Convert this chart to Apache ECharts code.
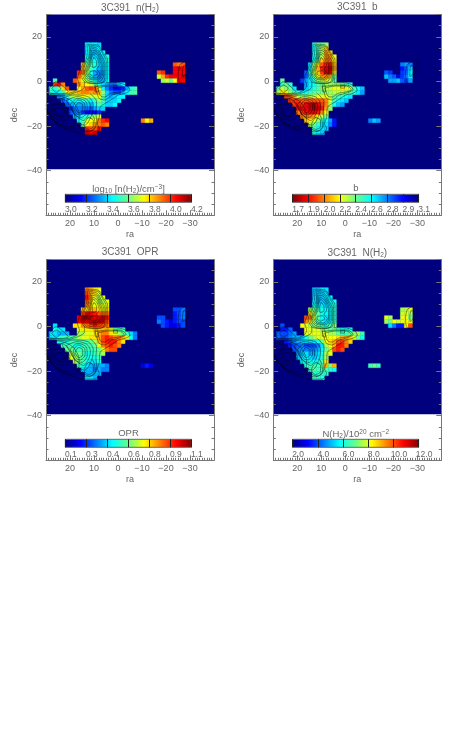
<!DOCTYPE html>
<html>
<head>
<meta charset="UTF-8">
<title>3C391</title>
<script src="https://cdn.jsdelivr.net/npm/echarts@6/dist/echarts.min.js"></script>
<style>
html,body{margin:0;padding:0;background:#fff}
#main{width:455px;height:735px;filter:blur(0.35px)}
</style>
</head>
<body>
<div id="main"></div>
<script>
var _ = null;

// map cells, row 0 is the top of the emission, column 0 is the left edge
var nH2Rows = [
[_,_,_,_,_,_,_,_,_,_,3.45,3.45,3.45,3.4],
[_,_,_,_,_,_,_,_,_,_,3.45,3.4,3.4,3.45],
[_,_,_,_,_,_,_,_,_,_,3.45,3.4,3.35,3.4,3.45],
[_,_,_,_,_,_,_,_,_,_,3.45,3.4,3.4,3.4,3.4,3.5],
[_,_,_,_,_,_,_,_,_,_,3.5,3.5,3.45,3.4,3.4,3.5],
[_,_,_,_,_,_,_,_,_,3.85,3.6,3.55,3.5,3.4,3.4,3.45,_,_,_,_,_,_,_,_,_,_,_,_,_,_,_,_,3.95,3.9,3.95],
[_,_,_,_,_,_,_,_,_,3.85,3.65,3.55,3.45,3.35,3.4,3.45,_,_,_,_,_,_,_,_,_,_,_,_,_,_,_,_,4.05,4.1,4.05],
[_,_,_,_,_,_,_,_,4.0,3.9,3.65,3.5,3.35,3.3,3.35,3.45,_,_,_,_,_,_,_,_,_,_,_,_,3.95,4.0,_,_,4.05,4.05,4.05],
[_,_,_,_,_,_,_,_,3.95,3.75,3.6,3.45,3.35,3.3,3.35,3.45,_,_,_,_,_,_,_,_,_,_,_,_,3.7,3.85,4.0,4.05,4.05,4.05,4.1],
[_,_,3.55,_,_,_,_,3.95,3.85,3.7,3.65,3.55,3.45,3.35,3.35,3.45,_,_,_,_,_,_,_,_,_,_,_,_,_,3.65,3.7,3.6,3.75,4.05,4.05],
[_,_,4.0,4.05,3.9,_,_,_,3.9,3.8,3.75,3.7,3.6,3.5,3.4,3.35,3.3,3.3,3.4,3.45],
[_,3.55,3.5,3.6,3.8,3.95,_,_,3.75,3.85,3.95,4.0,3.95,3.7,3.45,3.3,3.2,3.15,3.15,3.2,3.35,3.5,3.55],
[_,3.5,3.45,3.45,3.55,3.75,3.8,3.8,3.85,3.9,3.9,3.85,3.9,3.85,3.65,3.4,3.3,3.25,3.25,3.35,3.45,3.55,3.55],
[_,_,_,3.3,3.35,3.5,3.65,3.7,3.7,3.75,3.75,3.7,3.7,3.75,3.6,3.4,3.35,3.4,3.45,3.45],
[_,_,_,_,3.25,3.35,3.45,3.5,3.45,3.5,3.5,3.45,3.55,3.65,3.55,3.4,3.4,3.4,3.45],
[_,_,_,_,_,3.25,3.35,3.4,3.35,3.35,3.4,3.35,3.45,3.55,3.5,3.4,3.4,3.45],
[_,_,_,_,_,_,3.2,3.3,3.3,3.3,3.3,3.25,3.35,3.4,3.4],
[_,_,_,_,_,_,3.25,3.3,3.3,3.2,3.15,3.15,3.15,3.2],
[_,_,_,_,_,_,_,3.35,3.4,3.5,3.5,3.6,3.65,3.7],
[_,_,_,_,_,_,_,_,3.45,3.55,3.7,3.75,3.75,3.9,4.0,4.05,_,_,_,_,_,_,_,_,3.9,3.75,3.85],
[_,_,_,_,_,_,_,_,_,3.6,3.75,3.8,3.85,3.9,3.95,3.9],
[_,_,_,_,_,_,_,_,_,_,4.0,3.95,3.95,4.05],
[_,_,_,_,_,_,_,_,_,_,4.1,4.05,4.1]
];
var bRows = [
[_,_,_,_,_,_,_,_,_,_,2.5,2.4,2.4,2.35],
[_,_,_,_,_,_,_,_,_,_,2.55,2.45,2.3,2.15],
[_,_,_,_,_,_,_,_,_,_,2.55,2.45,2.35,2.1,2.15],
[_,_,_,_,_,_,_,_,_,_,2.55,2.45,2.3,2.1,2.05,2.25],
[_,_,_,_,_,_,_,_,_,_,2.55,2.4,2.15,2.05,2.05,2.2],
[_,_,_,_,_,_,_,_,_,2.6,2.35,2.2,2.0,1.9,1.9,2.15,_,_,_,_,_,_,_,_,_,_,_,_,_,_,_,_,2.75,2.7,2.75],
[_,_,_,_,_,_,_,_,_,2.6,2.35,2.1,1.9,1.8,1.8,2.1,_,_,_,_,_,_,_,_,_,_,_,_,_,_,_,_,2.9,2.8,2.65],
[_,_,_,_,_,_,_,_,2.8,2.5,2.3,2.15,1.95,1.8,1.85,2.2,_,_,_,_,_,_,_,_,_,_,_,_,2.8,2.85,_,_,2.85,2.8,2.6],
[_,_,_,_,_,_,_,_,2.8,2.6,2.4,2.25,2.1,2.05,2.15,2.4,_,_,_,_,_,_,_,_,_,_,_,_,2.65,2.75,2.8,2.95,2.85,2.75,2.6],
[_,_,2.4,_,_,_,_,2.85,2.7,2.6,2.5,2.35,2.3,2.25,2.3,2.45,_,_,_,_,_,_,_,_,_,_,_,_,_,2.7,2.7,2.65,2.8,2.85,2.7],
[_,_,2.5,2.4,2.5,_,_,_,2.7,2.6,2.55,2.45,2.4,2.35,2.35,2.35,2.35,2.4,2.45,2.5],
[_,2.45,2.3,2.35,2.4,2.6,_,_,2.65,2.6,2.5,2.45,2.35,2.3,2.3,2.25,2.25,2.2,2.2,2.3,2.45,2.55,2.65],
[_,2.3,2.2,2.2,2.35,2.45,2.5,2.55,2.55,2.5,2.45,2.4,2.4,2.35,2.35,2.3,2.3,2.3,2.35,2.4,2.5,2.6,2.7],
[_,_,_,1.95,2.0,2.1,2.3,2.35,2.35,2.3,2.3,2.25,2.25,2.25,2.3,2.4,2.45,2.5,2.55,2.6],
[_,_,_,_,1.95,1.95,1.95,2.0,2.0,2.0,2.0,2.0,2.0,2.05,2.25,2.45,2.55,2.6,2.65],
[_,_,_,_,_,1.95,1.9,1.95,1.85,1.8,1.75,1.85,1.95,2.05,2.3,2.55,2.65,2.7],
[_,_,_,_,_,_,1.9,1.9,1.85,1.8,1.75,1.8,1.9,2.1,2.35],
[_,_,_,_,_,_,2.05,1.95,1.9,1.85,1.85,1.9,2.05,2.25],
[_,_,_,_,_,_,_,2.05,2.05,2.05,2.1,2.2,2.3,2.4],
[_,_,_,_,_,_,_,_,2.15,2.2,2.25,2.35,2.5,2.55,2.7,2.9,_,_,_,_,_,_,_,_,2.75,2.65,2.7],
[_,_,_,_,_,_,_,_,_,2.3,2.4,2.5,2.6,2.6,2.75,2.9],
[_,_,_,_,_,_,_,_,_,_,2.45,2.55,2.6,2.65],
[_,_,_,_,_,_,_,_,_,_,2.5,2.6,2.65]
];
var oprRows = [
[_,_,_,_,_,_,_,_,_,_,.85,.8,.75,.7],
[_,_,_,_,_,_,_,_,_,_,.9,.8,.75,.7],
[_,_,_,_,_,_,_,_,_,_,.95,.8,.7,.65,.7],
[_,_,_,_,_,_,_,_,_,_,.9,.75,.7,.65,.65,.7],
[_,_,_,_,_,_,_,_,_,_,.85,.75,.7,.7,.7,.7],
[_,_,_,_,_,_,_,_,_,.8,.75,.8,.8,.75,.7,.75,_,_,_,_,_,_,_,_,_,_,_,_,_,_,_,_,.3,.3,.35],
[_,_,_,_,_,_,_,_,_,.9,.95,1.0,.95,.9,.85,.85,_,_,_,_,_,_,_,_,_,_,_,_,_,_,_,_,.25,.3,.35],
[_,_,_,_,_,_,_,_,1.0,1.05,1.05,1.05,1.0,1.0,1.0,.95,_,_,_,_,_,_,_,_,_,_,_,_,.3,.3,_,_,.25,.3,.35],
[_,_,_,_,_,_,_,_,1.0,1.0,1.0,1.0,1.05,1.05,1.0,.9,_,_,_,_,_,_,_,_,_,_,_,_,.35,.3,.25,.2,.25,.3,.3],
[_,_,.45,_,_,_,_,.75,.75,.85,.85,.9,.95,.9,.9,.85,_,_,_,_,_,_,_,_,_,_,_,_,_,.3,.25,.2,.2,.25,.3],
[_,_,.5,.45,.45,_,_,_,.7,.75,.75,.75,.8,.8,.8,.8,.7,.6,.55,.55],
[_,.45,.45,.4,.4,.4,_,_,.65,.65,.7,.7,.75,.8,.85,.85,.75,.7,.65,.6,.55,.45,.35],
[_,.45,.45,.5,.55,.55,.55,.6,.65,.7,.7,.75,.75,.8,.9,.95,.9,.85,.85,.8,.7,.5,.35],
[_,_,_,.5,.5,.5,.55,.55,.55,.55,.55,.6,.65,.8,.9,.95,.95,.95,.85,.75],
[_,_,_,_,.55,.55,.55,.5,.5,.55,.55,.55,.6,.7,.85,.9,.95,.9,.85],
[_,_,_,_,_,.6,.6,.55,.55,.55,.55,.55,.55,.6,.7,.85,.9,.9],
[_,_,_,_,_,_,.65,.6,.6,.55,.5,.5,.55,.6,.65],
[_,_,_,_,_,_,.7,.65,.6,.55,.5,.5,.5,.55],
[_,_,_,_,_,_,_,.65,.6,.55,.5,.45,.45,.5],
[_,_,_,_,_,_,_,_,.55,.5,.45,.4,.4,.4,.4,.35,_,_,_,_,_,_,_,_,.2,.25,.2],
[_,_,_,_,_,_,_,_,_,.45,.4,.4,.35,.4,.35,.35],
[_,_,_,_,_,_,_,_,_,_,.4,.4,.4,.4],
[_,_,_,_,_,_,_,_,_,_,.45,.45,.4]
];
var colRows = [
[_,_,_,_,_,_,_,_,_,_,5.2,5.2,5.5,5.5],
[_,_,_,_,_,_,_,_,_,_,5.2,5.2,5.3,5.5],
[_,_,_,_,_,_,_,_,_,_,5.3,5.2,5.2,5.5,5.7],
[_,_,_,_,_,_,_,_,_,_,5.5,5.3,5.2,5.3,5.5,6],
[_,_,_,_,_,_,_,_,_,_,6,5.7,5.5,5.5,5.5,6.2],
[_,_,_,_,_,_,_,_,_,7.5,7,6.5,6,5.7,5.7,6.3,_,_,_,_,_,_,_,_,_,_,_,_,_,_,_,_,7.5,7.7,8],
[_,_,_,_,_,_,_,_,_,8.5,7.5,6.8,6,5.7,5.7,6.2,_,_,_,_,_,_,_,_,_,_,_,_,_,_,_,_,7.8,8,7.5],
[_,_,_,_,_,_,_,_,10,9.5,7.8,6.8,5.8,5.5,5.6,6.3,_,_,_,_,_,_,_,_,_,_,_,_,8,7.5,_,_,8,8.2,7.2],
[_,_,_,_,_,_,_,_,9.5,8.5,7.5,6.5,5.8,5.5,5.7,6.5,_,_,_,_,_,_,_,_,_,_,_,_,7.5,7,8.2,7.8,8,8.3,8],
[_,_,4,_,_,_,_,8.2,8,7.5,7.2,7,6.5,6.2,6.5,7.2,_,_,_,_,_,_,_,_,_,_,_,_,_,5.5,4.5,3.5,3.5,8.2,10],
[_,_,3.5,3.5,4.2,_,_,_,8.2,8,8,8,7.5,7,7,7,6.5,6,6,6],
[_,4.3,4,4,4.3,4.8,_,_,8,8,8,8,8,8,7.5,7.5,7,6.5,6.5,7,7.3,7.5,6.5],
[_,4.3,4,4,4.5,5,5,5.2,6,7,7.5,8,8,8.2,8.2,8.2,8.5,9,9,8.7,8,7,6],
[_,_,_,3.5,4,4.5,5,5.2,5.5,5.5,5.5,6,7,8.2,8.5,9,10,10.2,9.5,8.7],
[_,_,_,_,3.5,4,4.2,4.5,4,4,4,4.5,5.5,7.5,8.2,9,10.5,10.5,9.5],
[_,_,_,_,_,4,4.5,4.8,4.5,4.5,4.5,5,5.7,7,7.8,10,10.5,10],
[_,_,_,_,_,_,4.8,5.2,5.5,5,4.8,5.5,6,7.5,8],
[_,_,_,_,_,_,5,5.5,5.7,5.5,5.2,5.5,6.2,7.5],
[_,_,_,_,_,_,_,5.7,6,6,5.8,6,6.5,8.5],
[_,_,_,_,_,_,_,_,6.2,6.5,6.5,6.5,6.8,9,7.2,9,_,_,_,_,_,_,_,_,6.5,7,6.5],
[_,_,_,_,_,_,_,_,_,6.5,6.7,6.5,6.5,6.8,6.2,6],
[_,_,_,_,_,_,_,_,_,_,6.3,6.3,6.3,6.2],
[_,_,_,_,_,_,_,_,_,_,6.5,6.3,6.2]
];

// contour lines, [ra, dec], the same in all four maps
var contours = [
[[30,-10.5],[28.3,-15.8],[24.2,-20.2],[18.6,-22.5],[13.8,-23.6],[9.6,-23.6],[7.8,-21.1],[8.6,-18.9],[7.8,-16.1],[7.5,-11.7],[5.4,-9.9],[1.9,-7.6],[-0.1,-6.1],[-2.9,-5.4],[-5,-3.9],[-3.9,-2],[0.6,-0.6],[4.7,-0.6],[4.3,2.9],[4.3,9.6],[6.1,12.8],[8.6,16.4],[13.3,16.7],[13.5,13.3],[14.4,8.8],[15.6,5.4],[16.9,1.4],[16.1,-1.6],[17.2,-3.9],[20.7,-5.4],[23.9,-5.7],[27.6,-5.4],[30,-6]],
[[12.6,16.2],[8.5,15.7],[6.4,12.4],[4.9,9],[4.9,3],[5.4,0],[9,-1],[13.5,-0.5],[15.4,3],[14.2,7.5],[13,11],[12.6,16.2]],
[[11.9,15.6],[8.6,14.8],[6.8,11.4],[5.4,8.1],[5.4,2.9],[6.1,-0.1],[8.9,-0.9],[13,-0.1],[14.7,2.9],[13.8,7.4],[12.2,11.1],[11.9,15.6]],
[[11.4,15],[8.7,14],[7.2,11],[5.9,7.7],[5.9,3],[7.2,0.2],[9,-0.3],[12.4,0.4],[14.2,3.2],[13,7.4],[11.8,11],[11.4,15]],
[[11,14.1],[8.9,13.3],[7.5,10.4],[6.5,7.3],[6.5,2.9],[8.2,0.6],[11.7,0.9],[13.8,3.6],[12.4,7.3],[11.4,11.1],[11,14.1]],
[[10.6,13.2],[8.7,12],[7.6,9.3],[7,7.3],[7,3.2],[8.6,1],[11.7,1.5],[13.2,4],[11.9,7.4],[11.2,10.7],[10.6,13.2]],
[[10.3,12.3],[8.6,10.4],[7.8,7.3],[8.9,5.4],[7.5,3.6],[8.9,1.6],[11.7,2.1],[12.6,4.4],[11.4,7.3],[11,10.4],[10.3,12.3]],
[[10,10.8],[8.9,8.9],[9.2,6.6],[10.6,6.3],[10.7,8.9],[10,10.8]],
[[11.7,4.4],[9.6,4.8],[8.6,3.4],[10.3,2.4],[11.7,3.2],[11.7,4.4]],
[[9.6,-2.4],[4,-1.6],[-0.8,-1.6],[-3.3,-3.6],[-0.8,-5.1],[2.6,-6.1],[5.4,-8.3],[7.8,-7.6],[8.9,-4.7],[9.6,-2.4]],
[[8.5,-3],[4,-2],[-0.5,-2],[-2.5,-3.7],[-0.5,-4.7],[3,-5.3],[5.5,-7],[7.3,-6.5],[8,-4.5],[8.5,-3]],
[[1.9,-1.7],[0.3,-1.7],[0.3,-3],[1.9,-3],[1.9,-1.7]],
[[9.6,-1.6],[8.6,-1.6],[8.2,-4.7],[9.3,-4.7],[9.6,-1.6]],
[[29,-5.7],[23,-6.3],[17,-4.7],[14,-2.5],[14,0]],
[[17.9,-11.7],[16.5,-9.5],[14.7,-10.5],[14.7,-12.9],[16.5,-14],[17.9,-11.7]],
[[18.7,-11],[16.7,-8.3],[14,-9.8],[13.7,-12.5],[15.6,-15],[17.3,-14.5],[18.7,-11]],
[[20,-10.5],[16.9,-7.6],[13.3,-9.1],[12.8,-12.9],[15.1,-16.1],[17.9,-15.1],[20,-10.5]],
[[21.5,-8.5],[17,-6.8],[13,-8],[11.5,-11],[12,-14],[14.4,-17.5],[16.8,-16],[19.5,-12.5],[21.5,-8.5]],
[[23.5,-7.6],[18.6,-6.1],[12.4,-6.9],[10.3,-10.5],[11,-15.1],[13.8,-19.6],[15.8,-18.9],[17.9,-17.4],[20.7,-13.6],[23.5,-7.6]],
[[11.7,-5.4],[8.9,-9.1],[9.2,-14.3],[8.9,-17.4],[9.6,-21.1],[13,-22.6],[15.8,-21.1],[17.2,-18.9]],
[[11,-14.5],[9.9,-16.5],[9.5,-20],[11.5,-22.3],[14.5,-21],[15.5,-18.5]],
[[12.4,-16.1],[10.3,-17.4],[10.3,-20.3],[12.4,-21.5],[14.2,-19.6],[12.4,-16.1]],
[[27.6,-3.1],[25.8,-1.6],[23.9,-3.1],[25.8,-4.9],[27.6,-3.1]],
[[28.6,-3.1],[25.8,-0.1],[22.8,-2.3],[20.7,-4.7],[23.9,-5.4],[28.6,-5],[28.6,-3.1]],
[[26.3,-12.1],[23.9,-11.7],[22.1,-13.6],[23.9,-15.5],[26,-14.3],[26.3,-12.1]],
[[27,-10.5],[24,-10.3],[21,-13.5],[23,-16],[26,-15.3],[27.3,-13],[27,-10.5]],
[[28.3,-10.5],[23.9,-9.5],[20,-13.6],[22.1,-17.4],[26.3,-16.5],[28.3,-13.6],[28.3,-10.5]],
[[30,-9.1],[23.9,-7.6],[19.3,-11.4],[17.9,-17.4],[19.3,-20.3],[24.9,-18.9],[28.3,-15.1],[30,-12.1]],
[[30,-8],[25,-6.5],[19,-9],[16.2,-15],[16.5,-20],[19,-21.5],[24,-19.7],[28,-16],[30,-12.5]],
[[-27.2,8.5],[-29.7,9.7],[-30,5.9],[-28.6,2.9],[-28.3,-0.9],[-25.8,-0.6],[-25.1,3.7],[-25.8,7.5],[-27.2,8.5]],
[[-27.5,7.3],[-28.9,5.9],[-28,2.9],[-26.9,2.2],[-26.9,5.1],[-27.5,7.3]]
];

// colour bar tick labels
var nH2Ticks = ['3.0','3.2','3.4','3.6','3.8','4.0','4.2'];
var bTicks = ['1.7','1.9','2.0','2.2','2.4','2.6','2.8','2.9','3.1'];
var oprTicks = ['0.1','0.3','0.4','0.6','0.8','0.9','1.1'];
var colTicks = ['2.0','4.0','6.0','8.0','10.0','12.0'];

var jet = ['#00007f','#0000ff','#007fff','#00ffff','#66ff88','#ffff00','#ff7f00','#ff0000','#7f0000'];
var navy = '#00007f';
var textColor = '#666';
var lineColor = '#777';
var fontName = 'Liberation Sans';

// cell grid, in axis units
var raStart = 30.4, decStart = 17.37, cellW = 1.667, cellH = 1.793;

var rich = {
    s: {fontSize: 6.5, padding: [4, 0, 0, 0], color: textColor, fontFamily: fontName},
    u: {fontSize: 6.5, padding: [0, 0, 5, 0], color: textColor, fontFamily: fontName}
};

var panels = [
    {title: '3C391  n(H{s|2})', barTitle: 'log{s|10} [n(H{s|2})/cm{u|−3}]', rows: nH2Rows, ticks: nH2Ticks, min: 3.0, max: 4.2, flip: false, left: 46, top: 14.5},
    {title: '3C391  b', barTitle: 'b', rows: bRows, ticks: bTicks, min: 1.7, max: 3.1, flip: true, left: 273.3, top: 14.5},
    {title: '3C391  OPR', barTitle: 'OPR', rows: oprRows, ticks: oprTicks, min: 0.1, max: 1.1, flip: false, left: 46, top: 259.5},
    {title: '3C391  N(H{s|2})', barTitle: 'N(H{s|2})/10{u|20} cm{u|−2}', rows: colRows, ticks: colTicks, min: 2, max: 12, flip: false, left: 273.3, top: 259.5}
];

function colourOf(p, v) {
    var f = (v - p.min) / (p.max - p.min);
    if (p.flip) f = 1 - f;
    return echarts.color.lerp(Math.max(0, Math.min(1, f)), jet);
}

function cellData(rows) {
    var out = [];
    rows.forEach(function (row, r) {
        row.forEach(function (v, c) {
            if (v !== null) out.push([raStart - cellW * (c + 0.5), decStart - cellH * (r + 0.5), v]);
        });
    });
    return out;
}

function minus(v) {
    return String(v).replace('-', '−');
}

var grid = [], xAxis = [], yAxis = [], series = [], title = [];

panels.forEach(function (p, i) {
    var xMain = i * 2, xBar = i * 2 + 1;
    var yMain = i * 3, yBar = i * 3 + 2;
    var gMain = i * 2, gBar = i * 2 + 1;
    var barLeft = p.left + 19.3;

    grid.push({left: p.left, top: p.top, width: 168, height: 200.8});
    grid.push({left: barLeft, top: p.top + 179.8, width: 126, height: 8});

    title.push({
        text: p.title, left: p.left + 79, top: p.top - 17, textAlign: 'center',
        textStyle: {fontSize: 10, fontWeight: 'normal', color: textColor, fontFamily: fontName, rich: rich}
    });
    title.push({
        text: p.barTitle, left: p.left + 77.5, top: p.top + 164, textAlign: 'center',
        textStyle: {fontSize: 9.5, fontWeight: 'normal', color: textColor, fontFamily: fontName, rich: rich}
    });

    xAxis.push({
        gridIndex: gMain, type: 'value', inverse: true, min: -40, max: 30, interval: 10, z: 5,
        name: 'ra', nameLocation: 'middle', nameGap: 15,
        nameTextStyle: {fontSize: 9, color: textColor, fontFamily: fontName},
        splitLine: {show: false},
        axisLine: {show: true, onZero: false, lineStyle: {color: lineColor}},
        axisTick: {show: true, inside: true, length: 5, lineStyle: {color: lineColor}},
        minorTick: {show: true, splitNumber: 10, length: 2.5, lineStyle: {color: lineColor}},
        axisLabel: {fontSize: 9, margin: 4, color: textColor, fontFamily: fontName, showMinLabel: false, showMaxLabel: false, formatter: minus}
    });
    xAxis.push({
        gridIndex: gBar, type: 'category', boundaryGap: false, data: p.ticks, position: 'bottom', z: 5,
        axisLine: {show: false},
        axisTick: {show: true, inside: true, length: 8, alignWithLabel: true, interval: 0, lineStyle: {color: '#222'}},
        axisLabel: {fontSize: 8.5, margin: 3, color: textColor, fontFamily: fontName, interval: 0, padding: [0, 0, 0, 11], showMinLabel: true, showMaxLabel: true},
        splitLine: {show: false}
    });

    var yCommon = {
        gridIndex: gMain, type: 'value', min: -60, max: 30, interval: 20, z: 5,
        splitLine: {show: false},
        axisLine: {show: true, onZero: false, lineStyle: {color: lineColor}},
        axisTick: {show: true, inside: true, length: 5, lineStyle: {color: lineColor}},
        minorTick: {show: true, splitNumber: 4, length: 2.5, lineStyle: {color: lineColor}}
    };
    yAxis.push(Object.assign({}, yCommon, {
        position: 'left', name: 'dec', nameLocation: 'middle', nameGap: 27, nameRotate: 90,
        nameTextStyle: {fontSize: 9, color: textColor, fontFamily: fontName},
        axisLabel: {fontSize: 9, margin: 4, color: textColor, fontFamily: fontName, showMinLabel: false, showMaxLabel: false, formatter: minus}
    }));
    yAxis.push(Object.assign({}, yCommon, {position: 'right', axisLabel: {show: false}}));
    yAxis.push({gridIndex: gBar, type: 'value', min: 0, max: 1, show: false});

    // navy image area behind the emission
    series.push({
        type: 'custom', xAxisIndex: xMain, yAxisIndex: yMain, silent: true, z: 1,
        data: [[30, 30, -40, -39.4]],
        renderItem: function (params, api) {
            var a = api.coord([api.value(0), api.value(1)]);
            var b = api.coord([api.value(2), api.value(3)]);
            return {type: 'rect', shape: {x: a[0], y: a[1], width: b[0] - a[0], height: b[1] - a[1]}, style: {fill: navy}};
        }
    });

    series.push({
        type: 'custom', xAxisIndex: xMain, yAxisIndex: yMain, silent: true, z: 2,
        data: cellData(p.rows),
        renderItem: function (params, api) {
            var x = api.value(0), y = api.value(1);
            var a = api.coord([x + cellW / 2, y + cellH / 2]);
            var b = api.coord([x - cellW / 2, y - cellH / 2]);
            var c = colourOf(p, api.value(2));
            return {type: 'rect', shape: {x: a[0], y: a[1], width: b[0] - a[0], height: b[1] - a[1]}, style: {fill: c, stroke: c, lineWidth: 0.4}};
        }
    });

    contours.forEach(function (line) {
        series.push({
            type: 'line', xAxisIndex: xMain, yAxisIndex: yMain, data: line, z: 3, silent: true,
            symbol: 'none', smooth: 0.3, clip: true,
            lineStyle: {color: '#000', width: 0.6, opacity: 0.7}
        });
    });

    // colour bar
    var stops = jet.map(function (col, k) {
        return {offset: k / (jet.length - 1), color: p.flip ? jet[jet.length - 1 - k] : col};
    });
    series.push({
        type: 'custom', xAxisIndex: xBar, yAxisIndex: yBar, silent: true, z: 2,
        data: [[0, 0, p.ticks.length - 1, 1]],
        renderItem: function (params, api) {
            var a = api.coord([api.value(0), api.value(3)]);
            var b = api.coord([api.value(2), api.value(1)]);
            return {
                type: 'rect',
                shape: {x: a[0], y: a[1], width: b[0] - a[0], height: b[1] - a[1]},
                style: {fill: new echarts.graphic.LinearGradient(0, 0, 1, 0, stops), stroke: '#666', lineWidth: 1}
            };
        }
    });
});

var myChart = echarts.init(document.getElementById('main'), null, {renderer: 'canvas'});
myChart.setOption({
    animation: false,
    backgroundColor: '#fff',
    tooltip: {show: false},
    title: title,
    grid: grid,
    xAxis: xAxis,
    yAxis: yAxis,
    series: series
});
</script>
</body>
</html>
